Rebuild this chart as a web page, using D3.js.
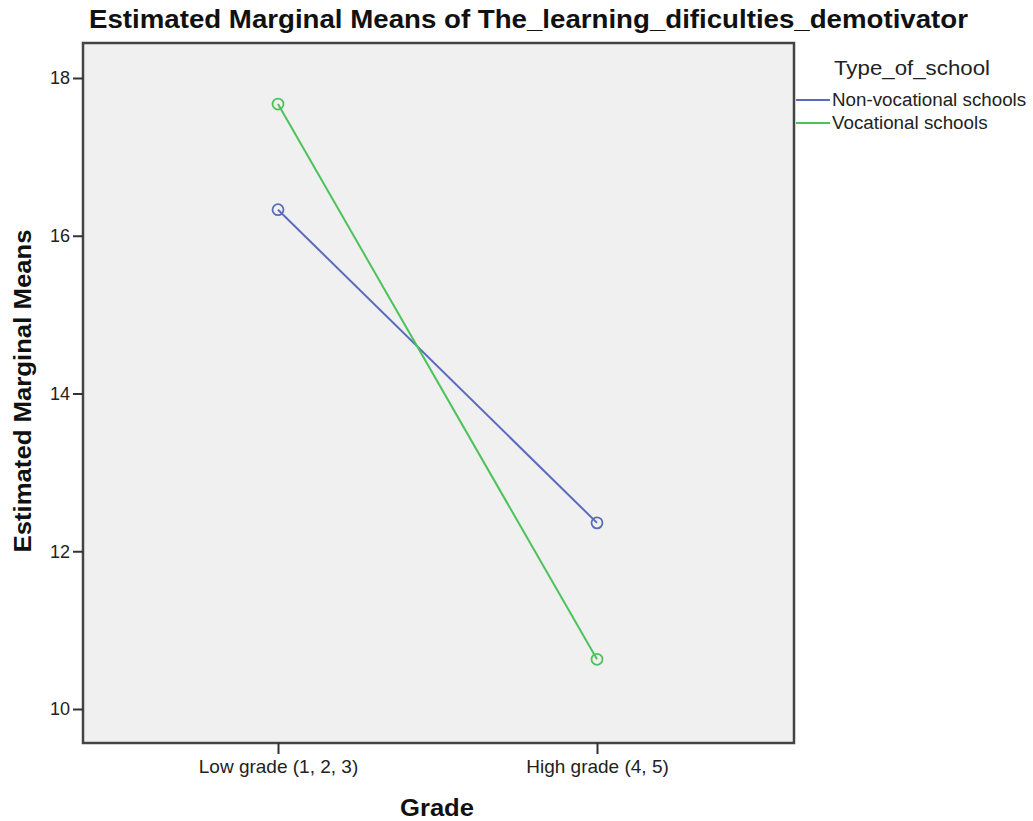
<!DOCTYPE html>
<html><head><meta charset="utf-8">
<script src="https://cdn.jsdelivr.net/npm/d3@7"></script>
<style>body{margin:0;background:#fff}svg{display:block}</style>
</head><body>
<script>
const categories = ["Low grade (1, 2, 3)", "High grade (4, 5)"];
const seriesNames = ["Non-vocational schools", "Vocational schools"];
const nonVocational = [16.33, 12.36];
const vocational = [17.67, 10.63];
const yTicks = [10, 12, 14, 16, 18];
const colors = ["#5a6bbf", "#4cc35a"];

const W = 1033, H = 821;
const svg = d3.select("body").append("svg").attr("width", W).attr("height", H);
const plot = {l: 83, t: 43, r: 794, b: 743};

const x = d3.scalePoint().domain(categories).range([278, 597]);
const y = d3.scaleLinear().domain([10, 18]).range([709, 78]);

svg.append("rect").attr("x", plot.l).attr("y", plot.t)
  .attr("width", plot.r - plot.l).attr("height", plot.b - plot.t)
  .attr("fill", "#f0f0f0").attr("stroke", "#444").attr("stroke-width", 2.5);

// y axis
const yAxis = d3.axisLeft(y).tickValues(yTicks).tickSize(10).tickPadding(3);
const ga = svg.append("g").attr("transform", `translate(${plot.l},0)`).call(yAxis);
ga.attr("font-size", null).attr("font-family", null);
ga.select(".domain").remove();
ga.selectAll("line").attr("stroke", "#333").attr("stroke-width", 2);
ga.selectAll("text").style("font-family", "Liberation Sans, Arial, sans-serif").style("font-size", "18px").attr("fill", "#222");

// x axis
const xAxis = d3.axisBottom(x).tickSize(11).tickPadding(6);
const gx = svg.append("g").attr("transform", `translate(0,${plot.b})`).call(xAxis);
gx.attr("font-size", null).attr("font-family", null);
gx.select(".domain").remove();
gx.selectAll("line").attr("stroke", "#333").attr("stroke-width", 2);
gx.selectAll("text").style("font-family", "Liberation Sans, Arial, sans-serif").style("font-size", "19px").attr("fill", "#222");

const series = [nonVocational, vocational];
const line = d3.line().x((d, i) => x(categories[i])).y(d => y(d));
series.forEach((vals, s) => {
  svg.append("path").datum(vals).attr("d", line).attr("fill", "none")
    .attr("stroke", colors[s]).attr("stroke-width", 2);
  svg.selectAll(null).data(vals).enter().append("circle")
    .attr("cx", (d, i) => x(categories[i])).attr("cy", d => y(d)).attr("r", 5.5)
    .attr("fill", "none").attr("stroke", colors[s]).attr("stroke-width", 1.8);
});

// title
svg.append("text").attr("x", 89).attr("y", 28)
  .attr("font-family", "Liberation Sans Narrow, Liberation Sans, Arial, sans-serif").attr("font-weight", "bold")
  .attr("font-size", 25).attr("fill", "#111").attr("textLength", 879).attr("lengthAdjust", "spacingAndGlyphs")
  .text("Estimated Marginal Means of The_learning_dificulties_demotivator");

// axis titles
svg.append("text").attr("transform", "translate(31,391) rotate(-90)").attr("text-anchor", "middle")
  .attr("font-family", "Liberation Sans, Arial, sans-serif").attr("font-weight", "bold")
  .attr("font-size", 23).attr("fill", "#111").attr("textLength", 323).attr("lengthAdjust", "spacingAndGlyphs")
  .text("Estimated Marginal Means");
svg.append("text").attr("x", 437).attr("y", 816).attr("text-anchor", "middle")
  .attr("font-family", "Liberation Sans, Arial, sans-serif").attr("font-weight", "bold")
  .attr("font-size", 24).attr("fill", "#111").attr("textLength", 74).attr("lengthAdjust", "spacingAndGlyphs")
  .text("Grade");

// legend
svg.append("text").attr("x", 834).attr("y", 75)
  .attr("font-family", "Liberation Sans, Arial, sans-serif").attr("font-size", 20).attr("fill", "#222")
  .attr("textLength", 156).attr("lengthAdjust", "spacingAndGlyphs").text("Type_of_school");
seriesNames.forEach((n, i) => {
  const ly = 100 + i * 23;
  svg.append("line").attr("x1", 796).attr("x2", 830).attr("y1", ly).attr("y2", ly)
    .attr("stroke", colors[i]).attr("stroke-width", 2);
  svg.append("text").attr("x", 832).attr("y", ly + 6)
    .attr("font-family", "Liberation Sans, Arial, sans-serif").attr("font-size", 18.8).attr("fill", "#222").text(n);
});
</script>
</body></html>
